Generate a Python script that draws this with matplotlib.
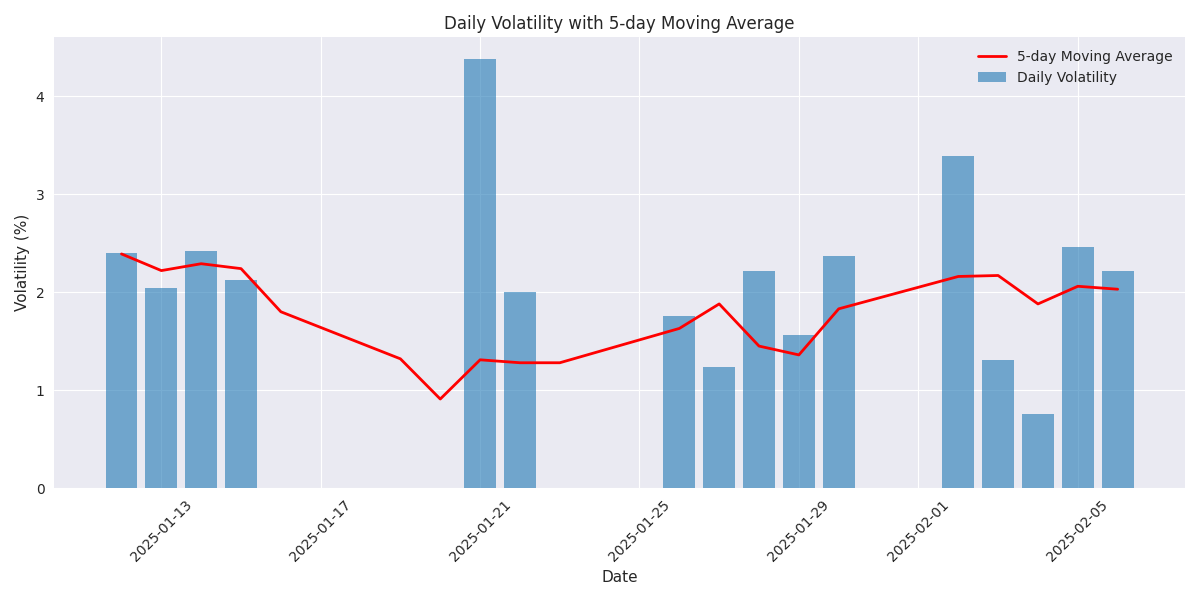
import numpy as np
import pandas as pd
import matplotlib
matplotlib.use("Agg")
import matplotlib.pyplot as plt

# 日付と値
dates = pd.to_datetime([
    "2025-01-12", "2025-01-13", "2025-01-14", "2025-01-15", "2025-01-16",
    "2025-01-19", "2025-01-20", "2025-01-21", "2025-01-22", "2025-01-23",
    "2025-01-26", "2025-01-27", "2025-01-28", "2025-01-29", "2025-01-30",
    "2025-02-02", "2025-02-03", "2025-02-04", "2025-02-05", "2025-02-06",
])
volatility = [2.40, 2.04, 2.42, 2.12, np.nan,
              np.nan, np.nan, 4.38, 2.00, np.nan,
              1.755, 1.235, 2.22, 1.56, 2.37,
              3.39, 1.31, 0.755, 2.46, 2.22]
moving_avg = [2.39, 2.22, 2.29, 2.24, 1.80,
              1.32, 0.91, 1.31, 1.28, 1.28,
              1.63, 1.88, 1.45, 1.36, 1.83,
              2.16, 2.17, 1.88, 2.06, 2.03]

plt.style.use("seaborn-v0_8-darkgrid")
plt.rcParams['font.family'] = ['DejaVu Sans']
fig, ax = plt.subplots(figsize=(12, 6), dpi=100)

ax.bar(dates, volatility, width=0.8, color="#1f77b4", alpha=0.6, label="Daily Volatility")
ax.plot(dates, moving_avg, color="red", linewidth=2, label="5-day Moving Average")

ax.set_title("Daily Volatility with 5-day Moving Average", fontsize=12)
ax.set_xlabel("Date", fontsize=11)
ax.set_ylabel("Volatility (%)", fontsize=11)
ax.legend(loc="upper right")
plt.xticks(rotation=45)
ax.tick_params(axis="both", pad=7)

plt.tight_layout()
plt.savefig("out.png")
